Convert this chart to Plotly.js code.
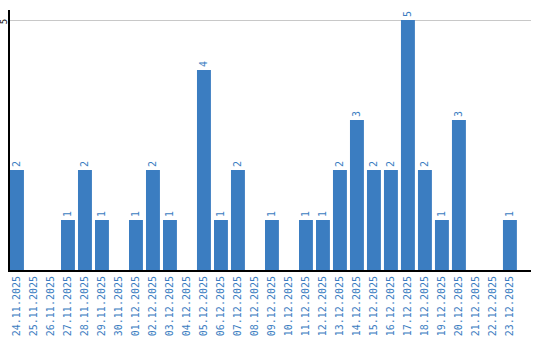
<!DOCTYPE html>
<html><head><meta charset="utf-8">
<script src="https://cdn.plot.ly/plotly-3.0.1.min.js"></script>
<style>body{margin:0;background:#fff}#c{width:540px;height:340px}</style>
</head><body><div id="c"></div>
<script>
const dates = ["24.11.2025","25.11.2025","26.11.2025","27.11.2025","28.11.2025","29.11.2025","30.11.2025","01.12.2025","02.12.2025","03.12.2025","04.12.2025","05.12.2025","06.12.2025","07.12.2025","08.12.2025","09.12.2025","10.12.2025","11.12.2025","12.12.2025","13.12.2025","14.12.2025","15.12.2025","16.12.2025","17.12.2025","18.12.2025","19.12.2025","20.12.2025","21.12.2025","22.12.2025","23.12.2025"];
const counts = [2,0,0,1,2,1,0,1,2,1,0,4,1,2,0,1,0,1,1,2,3,2,2,5,2,1,3,0,0,1];
const yTicks = [5];
const blue = "#3b7dc1";
const font = "DejaVu Sans Mono, monospace";
Plotly.newPlot("c", [{
  type: "bar", x: dates, y: counts,
  marker: {color: blue},
  text: counts.map(v => v ? String(v) : ""),
  textposition: "outside", textangle: -90, cliponaxis: false,
  textfont: {family: font, size: 10, color: blue},
  hoverinfo: "none"
}], {
  width: 540, height: 340,
  margin: {l: 10, r: 9, t: 10, b: 70},
  paper_bgcolor: "#fff", plot_bgcolor: "#fff",
  bargap: 0.18, showlegend: false,
  xaxis: {type: "category", range: [-0.41, 30.24], showline: true, linecolor: "#000", linewidth: 2,
    tickangle: -90, tickfont: {family: font, size: 10, color: blue}, ticks: "", showgrid: false, fixedrange: true},
  yaxis: {range: [0, 5.2], tickvals: yTicks, ticktext: yTicks.map(String), tickangle: -90,
    tickfont: {family: font, size: 9, color: "#000"}, showline: true, linecolor: "#000", linewidth: 2,
    ticklabelstandoff: -3, ticklabelshift: 3,
    gridcolor: "#c8c8c8", zeroline: false, ticks: "", ticklen: 0, fixedrange: true}
}, {displayModeBar: false, staticPlot: true});
</script></body></html>
